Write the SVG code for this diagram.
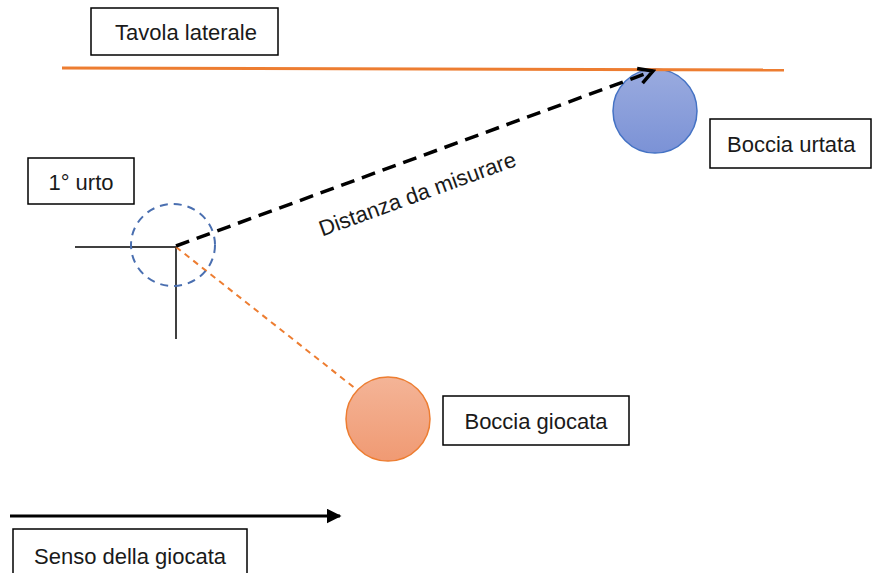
<svg xmlns="http://www.w3.org/2000/svg" width="872" height="573" viewBox="0 0 872 573">
<defs>
<style>
.box{fill:#fff;stroke:#000;stroke-width:1.5}
.lbl{font-family:"Liberation Sans","DejaVu Sans",sans-serif;font-size:22px;fill:#1a1a1a}
</style>
<linearGradient id="gb" x1="0" y1="0" x2="0" y2="1"><stop offset="0" stop-color="#9aabdf"/><stop offset="1" stop-color="#7b92d6"/></linearGradient>
<linearGradient id="go" x1="0" y1="0" x2="0" y2="1"><stop offset="0" stop-color="#f4b497"/><stop offset="1" stop-color="#f09a73"/></linearGradient>
<marker id="open" viewBox="0 0 12 12" refX="10" refY="6" markerWidth="6" markerHeight="6" orient="auto" markerUnits="strokeWidth"><path d="M2,1.5 L10,6 L2,10.5" fill="none" stroke="#000" stroke-width="2"/></marker>
<marker id="solid" viewBox="0 0 10 10" refX="9" refY="5" markerWidth="5" markerHeight="5" orient="auto" markerUnits="strokeWidth"><path d="M0,0 L10,5 L0,10 z" fill="#000"/></marker>
</defs>
<g id="urtata-ball"><circle cx="655" cy="111" r="42" fill="url(#gb)" stroke="#4472c4" stroke-width="1.5"/></g>
<g id="connectors">
<line x1="62" y1="68" x2="784" y2="70" stroke="#ed7d31" stroke-width="3"/>
<line x1="75" y1="247" x2="176" y2="247" stroke="#000" stroke-width="1.5"/>
<line x1="176" y1="247" x2="176" y2="339" stroke="#000" stroke-width="1.5"/>
<line x1="176" y1="247" x2="356" y2="389" stroke="#ed7d31" stroke-width="2" stroke-dasharray="6,5"/>
<line x1="176" y1="246" x2="653" y2="71" stroke="#000" stroke-width="3.5" stroke-dasharray="14,8" marker-end="url(#open)"/>
<line x1="10" y1="516" x2="340" y2="516" stroke="#000" stroke-width="3" marker-end="url(#solid)"/>
</g>
<g id="tavola"><rect class="box" x="91" y="8" width="187" height="47"/><text class="lbl" x="186" y="40" text-anchor="middle">Tavola laterale</text></g>
<g id="urtata"><rect class="box" x="710" y="119" width="161" height="49"/><text class="lbl" x="727" y="152">Boccia urtata</text></g>
<g id="urto"><rect class="box" x="28" y="158" width="106" height="46"/><text class="lbl" x="81" y="190" text-anchor="middle">1° urto</text></g>
<g id="urto-ball"><ellipse cx="173" cy="245" rx="42" ry="41" fill="none" stroke="#4a6fb0" stroke-width="2" stroke-dasharray="8,6"/></g>
<g id="distanza"><text class="lbl" x="420" y="201" text-anchor="middle" transform="rotate(-20 420 201)" font-size="21">Distanza da misurare</text></g>
<g id="giocata-ball"><circle cx="388" cy="419" r="42" fill="url(#go)" stroke="#ed7d31" stroke-width="1.5"/></g>
<g id="giocata"><rect class="box" x="443" y="396" width="186" height="49"/><text class="lbl" x="536" y="429" text-anchor="middle">Boccia giocata</text></g>
<g id="senso"><rect class="box" x="13" y="529" width="234" height="50"/><text class="lbl" x="130" y="564" text-anchor="middle">Senso della giocata</text></g>
</svg>
